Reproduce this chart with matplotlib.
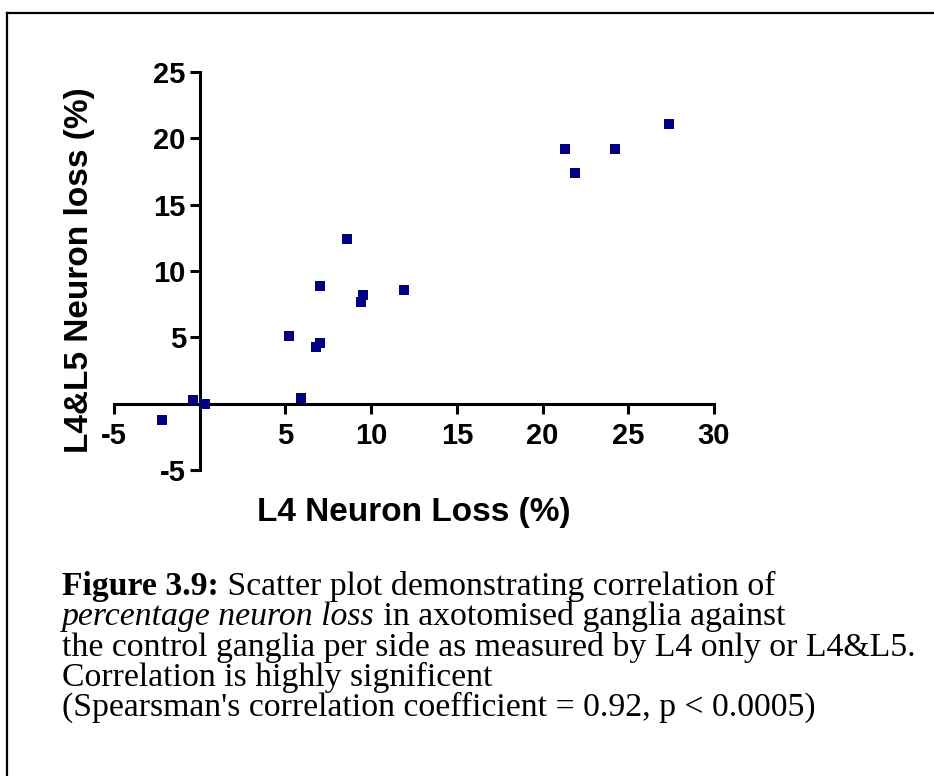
import matplotlib
matplotlib.use("Agg")
import matplotlib.pyplot as plt
from matplotlib.lines import Line2D

plt.rcParams["axes.unicode_minus"] = False

# Data
l4_loss = [-2.2, -0.4, 0.3, 5.2, 5.9, 6.8, 7.0, 7.0, 8.6, 9.4, 9.5, 11.9, 21.3, 21.9, 24.2, 27.4]
l4l5_loss = [-1.2, 0.3, 0.0, 5.1, 0.4, 4.3, 4.6, 8.9, 12.4, 7.7, 8.2, 8.6, 19.2, 17.4, 19.2, 21.1]
x_ticks = [-5, 5, 10, 15, 20, 25, 30]
y_ticks = [-5, 5, 10, 15, 20, 25]

W, H = 934, 776
fig = plt.figure(figsize=(W / 100, H / 100), dpi=100)
fig.patch.set_facecolor("white")

def fx(px):
    return px / W

def fy(py):
    return 1 - py / H

# outer frame (top and left border)
fig.add_artist(Line2D([fx(7), 1.0], [fy(13), fy(13)], color="black", lw=1.6))
fig.add_artist(Line2D([fx(7), fx(7)], [fy(13), 0.0], color="black", lw=1.6))

ax = fig.add_axes([fx(114), fy(470), fx(714) - fx(114), fy(72) - fy(470)])
ax.set_facecolor("none")
ax.scatter(l4_loss, l4l5_loss, marker="s", s=62, color="#000080", zorder=3, linewidths=0)
ax.set_xlim(-5, 30)
ax.set_ylim(-5, 25)

ax.spines["left"].set_position(("data", 0))
ax.spines["bottom"].set_position(("data", 0))
ax.spines["top"].set_visible(False)
ax.spines["right"].set_visible(False)
for s in ("left", "bottom"):
    ax.spines[s].set_linewidth(2.2)
ax.set_xticks(x_ticks)
ax.set_yticks(y_ticks)
ax.tick_params(axis="both", direction="out", length=7, width=2.2, labelsize=21)
ax.tick_params(axis="x", pad=6)
ax.tick_params(axis="y", pad=3)
for lab in ax.get_xticklabels() + ax.get_yticklabels():
    lab.set_fontfamily("Liberation Sans")
    lab.set_fontweight("bold")

fig.text(fx(414), fy(513), "L4 Neuron Loss (%)", ha="center", va="center",
         fontsize=24, fontweight="bold", family="Liberation Sans")
fig.text(fx(80), fy(270), "L4&L5 Neuron loss (%)", ha="center", va="center",
         rotation=90, fontsize=24, fontweight="bold", family="Liberation Sans")

# caption
cap_size = 24.3
x0 = fx(62)
lines_y = [595, 625, 656, 686, 716]
serif = "Liberation Serif"

t1 = fig.text(x0, fy(lines_y[0]), "Figure 3.9:", fontsize=cap_size, family=serif,
              fontweight="bold", va="baseline")
t2 = fig.text(x0, fy(lines_y[1]), "percentage neuron loss", fontsize=cap_size,
              family=serif, style="italic", va="baseline")
fig.text(x0, fy(lines_y[2]), "the control ganglia per side as measured by L4 only or L4&L5.",
         fontsize=cap_size, family=serif, va="baseline")
fig.text(x0, fy(lines_y[3]), "Correlation is highly significent",
         fontsize=cap_size, family=serif, va="baseline")
fig.text(x0, fy(lines_y[4]), "(Spearsman's correlation coefficient = 0.92, p < 0.0005)",
         fontsize=cap_size, family=serif, va="baseline")

# place continuation pieces after the bold / italic parts
fig.canvas.draw()
r = fig.canvas.get_renderer()
b1 = t1.get_window_extent(r)
b2 = t2.get_window_extent(r)
fig.text(b1.x1 / fig.dpi / fig.get_figwidth(), fy(lines_y[0]),
         " Scatter plot demonstrating correlation of", fontsize=cap_size,
         family=serif, va="baseline")
fig.text(b2.x1 / fig.dpi / fig.get_figwidth(), fy(lines_y[1]),
         " in axotomised ganglia against", fontsize=cap_size,
         family=serif, va="baseline")

fig.savefig("out.png", dpi=100)
